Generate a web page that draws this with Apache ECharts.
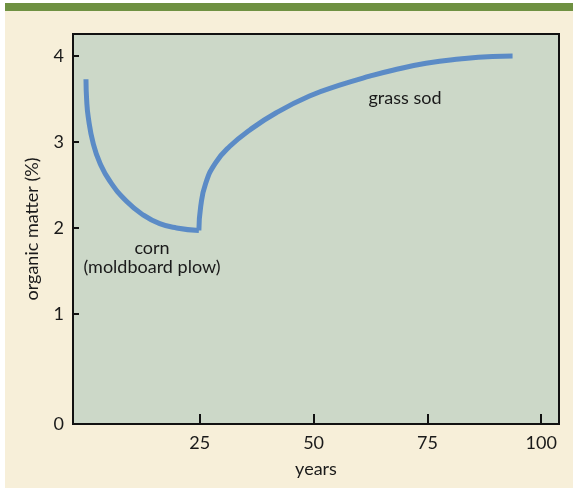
<!DOCTYPE html>
<html>
<head>
<meta charset="utf-8">
<script src="https://cdn.jsdelivr.net/npm/echarts@6/dist/echarts.min.js"></script>
<style>
  html, body { margin: 0; padding: 0; background: #ffffff; }
  .panel {
    position: absolute; left: 5px; top: 3px; width: 568px; height: 477px;
    border-top: 8px solid #6f9142; background: #f7efd9;
  }
  #chart { position: absolute; left: 0; top: 0; width: 573px; height: 490px; }
</style>
</head>
<body>
<div class="panel"></div>
<div id="chart"></div>
<script>
// corn under moldboard plow, then grass sod (years, organic matter %)
const cornYears = [0, 0.15, 0.5, 1.6, 3.1, 5.3, 8.9, 12.6, 16.2, 19.9, 24.8]
const cornOM = [3.73, 3.49, 3.29, 2.98, 2.75, 2.54, 2.31, 2.15, 2.05, 2.0, 1.97]
const sodYears = [24.8, 25.2, 26.3, 28.5, 31.6, 36.0, 41.8, 49.1, 55.7, 62.3, 67.4, 74.7, 82.0, 89.3, 93.7]
const sodOM = [1.97, 2.25, 2.52, 2.76, 2.95, 3.14, 3.34, 3.535, 3.66, 3.765, 3.835, 3.915, 3.965, 3.995, 4.0]
const xTicks = [25, 50, 75, 100]
const yTicks = [1, 2, 3, 4]

const font = 'Lato, "Open Sans", sans-serif'
const yMin = -0.28

const pairs = (xs, ys) => xs.map((x, i) => [x, ys[i]])

const chart = echarts.init(document.getElementById('chart'))

const option = {
  animation: false,
  graphic: [
    { type: 'text', x: 405, y: 98, style: { text: 'grass sod', font: '18px ' + font, fill: '#1a1a1a', align: 'center', verticalAlign: 'middle' } },
    { type: 'text', x: 152, y: 248, style: { text: 'corn', font: '18px ' + font, fill: '#1a1a1a', align: 'center', verticalAlign: 'middle' } },
    { type: 'text', x: 152, y: 267, style: { text: '(moldboard plow)', font: '18px ' + font, fill: '#1a1a1a', align: 'center', verticalAlign: 'middle' } }
  ],
  grid: {
    left: 73,
    top: 34,
    right: 14,
    bottom: 66,
    show: true,
    backgroundColor: '#ccd8c8',
    borderColor: '#111111',
    borderWidth: 2
  },
  xAxis: {
    type: 'value',
    min: -2.85,
    max: 103.9,
    name: 'years',
    nameLocation: 'middle',
    nameGap: 36,
    nameTextStyle: { fontFamily: font, fontSize: 18, color: '#1a1a1a' },
    axisLine: { show: false, onZero: false },
    splitLine: { show: false },
    axisTick: {
      show: true,
      inside: true,
      length: 10,
      customValues: xTicks,
      lineStyle: { color: '#111111', width: 2 }
    },
    axisLabel: {
      customValues: xTicks,
      margin: 10,
      fontFamily: font,
      fontSize: 18,
      color: '#1a1a1a'
    }
  },
  yAxis: {
    type: 'value',
    min: yMin,
    max: 4.256,
    name: 'organic matter (%)',
    nameLocation: 'middle',
    nameGap: 32,
    nameTextStyle: { fontFamily: font, fontSize: 18, color: '#1a1a1a' },
    axisLine: { show: false, onZero: false },
    splitLine: { show: false },
    axisTick: {
      show: true,
      inside: true,
      length: 6,
      customValues: yTicks,
      lineStyle: { color: '#111111', width: 2 }
    },
    axisLabel: {
      customValues: [yMin].concat(yTicks),
      margin: 9,
      fontFamily: font,
      fontSize: 18,
      color: '#1a1a1a',
      formatter: v => (v < 0 ? '0' : String(v))
    }
  },
  series: [
    {
      name: 'corn',
      type: 'line',
      data: pairs(cornYears, cornOM),
      smooth: 0.5,
      showSymbol: false,
      lineStyle: { color: '#5b8bc6', width: 5, cap: 'butt' }
    },
    {
      name: 'grass sod',
      type: 'line',
      data: pairs(sodYears, sodOM),
      smooth: 0.5,
      showSymbol: false,
      lineStyle: { color: '#5b8bc6', width: 5, cap: 'butt' }
    }
  ]
}

chart.setOption(option)
</script>
</body>
</html>
